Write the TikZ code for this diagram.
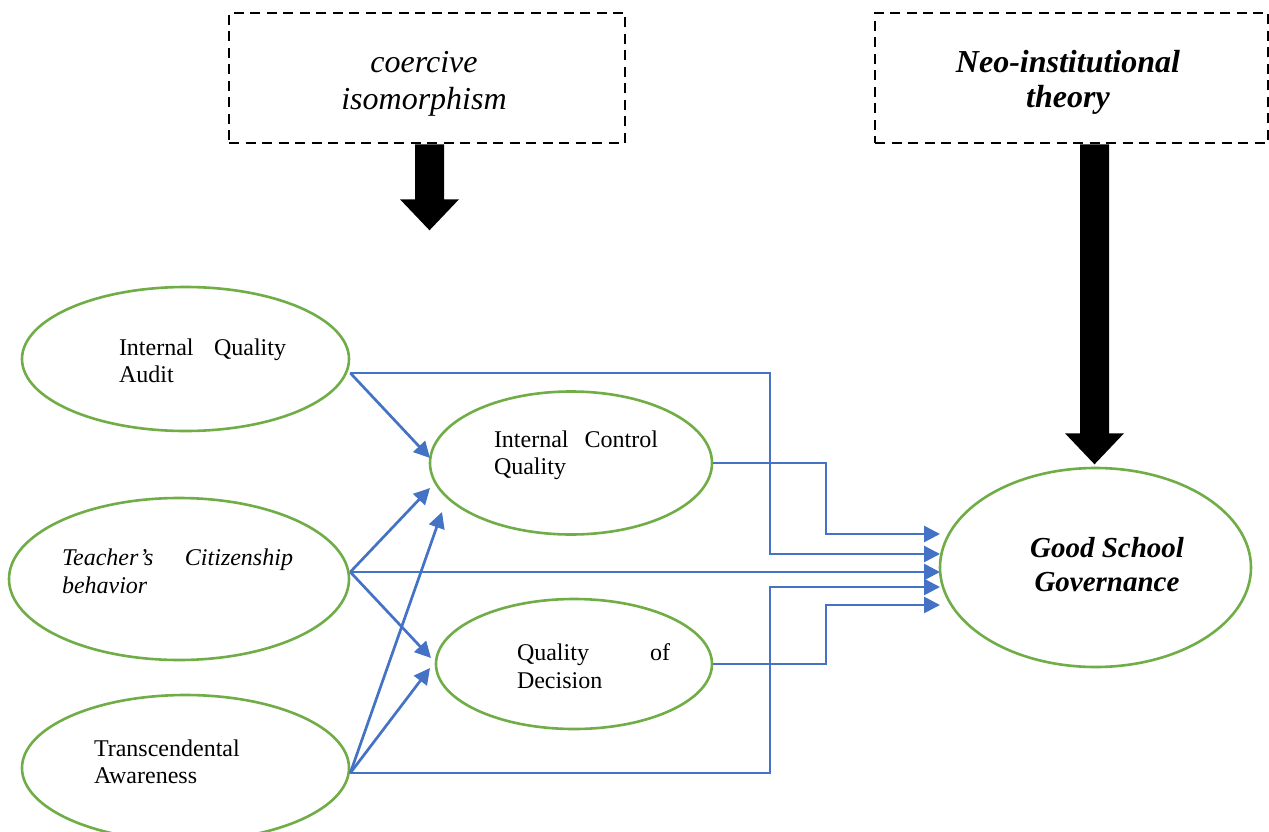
\documentclass[tikz,border=0pt]{standalone}
\usepackage{fontspec}
\setmainfont{Liberation Serif}
\usetikzlibrary{shapes.geometric,arrows.meta,calc}
\definecolor{ellgreen}{HTML}{70AD47}
\definecolor{connblue}{HTML}{4472C4}
\begin{document}
\begin{tikzpicture}[x=1pt,y=-1pt,
  ell/.style={ellipse,draw=ellgreen,line width=2.6pt,inner sep=0pt},
  dbox/.style={draw=black,line width=2.6pt,dash pattern=on 10pt off 6.5pt,inner sep=0pt},
  lbl/.style={inner sep=0pt,font=\fontsize{24}{27}\selectfont,align=left},
  conn/.style={draw=connblue,line width=2.7pt},
  arr/.style={conn,-{Triangle[length=16pt,width=16pt]}},
  blockarrow/.style={fill=black}]
\clip (0,0) rectangle (1269,832);
\fill[white] (0,0) rectangle (1269,832);

% top boxes
\node[dbox,minimum width=396pt,minimum height=130pt] (cb) at (427,78) {};
\node[inner sep=0pt,align=center,font=\fontsize{32}{37}\selectfont\itshape] (cbt) at (424,83.6) {\strut coercive\\isomorphism\strut};
\node[dbox,minimum width=393pt,minimum height=130pt] (nb) at (1071.5,78) {};
\node[inner sep=0pt,align=center,font=\fontsize{32}{35}\selectfont\bfseries\itshape] (nbt) at (1068,83.5) {\strut Neo-institutional\\theory\strut};

% block arrows
\fill[blockarrow] ([xshift=-12pt]cb.south) -- ++(0,55) -- ++(-15,0) -- ++(29.5,31) -- ++(29.5,-31) -- ++(-15,0) -- ++(0,-55) -- cycle;
\fill[blockarrow] ([xshift=8.5pt]nb.south) -- ++(0,289) -- ++(-15,0) -- ++(29.5,31) -- ++(29.5,-31) -- ++(-15,0) -- ++(0,-289) -- cycle;

% ellipses
\node[ell,minimum width=327pt,minimum height=144pt] (E1) at (185.5,359) {};
\node[ell,minimum width=282pt,minimum height=143pt] (E2) at (571,463) {};
\node[ell,minimum width=340pt,minimum height=162pt] (E3) at (179,579) {};
\node[ell,minimum width=276pt,minimum height=130pt] (E4) at (574,664) {};
\node[ell,minimum width=327pt,minimum height=146pt] (E5) at (185.5,768) {};
\node[ell,minimum width=311pt,minimum height=199pt] (E6) at (1095.5,567.5) {};

% ellipse texts
\node[lbl,text width=167pt] (E1t) at (202.5,363.1) {\strut Internal\hfill Quality\\Audit\strut};
\node[lbl,text width=164pt] (E2t) at (576,455.6) {\strut Internal\hfill Control\\Quality\strut};
\node[lbl,text width=231pt,font=\fontsize{24}{28}\selectfont\itshape] (E3t) at (177.5,573.4) {\strut Teacher’s\hfill Citizenship\\behavior\strut};
\node[lbl,text width=153pt,font=\fontsize{24}{28}\selectfont] (E4t) at (593.5,668.4) {\strut Quality\hfill of\\Decision\strut};
\node[lbl,text width=150pt] (E5t) at (169,764.4) {\strut Transcendental\\Awareness\strut};
\node[inner sep=0pt,align=center,font=\fontsize{29}{34}\selectfont\bfseries\itshape] (E6t) at (1107,567.7) {\strut Good School\\Governance\strut};

% connector end points
\coordinate (s1) at ([yshift=-14pt]E1.east);
\coordinate (s3) at ([yshift=7pt]E3.east);
\coordinate (s5) at ([yshift=-5pt]E5.east);
\coordinate (a1) at (430,458);
\coordinate (a2) at (430,488);
\coordinate (a3) at (442,512);
\coordinate (a4) at (431,658);
\coordinate (a5) at (430,668);
\coordinate (t1) at (940,534);
\coordinate (t2) at (940,554);
\coordinate (t3) at (940,572);
\coordinate (t4) at (940,587);
\coordinate (t5) at (940,605);

% connectors
\draw[arr] (s1) -- (a1);
\draw[arr] (s1) -| (770,554) -- (t2);
\draw[arr] (E2.east) -| (826,534) -- (t1);
\draw[arr] (s3) -- (t3);
\draw[arr] (s3) -- (a2);
\draw[arr] (s3) -- (a4);
\draw[arr] (s5) -- (a3);
\draw[arr] (s5) -- (a5);
\draw[arr] (s5) -| (770,587) -- (t4);
\draw[arr] (E4.east) -| (826,605) -- (t5);
\end{tikzpicture}
\end{document}
